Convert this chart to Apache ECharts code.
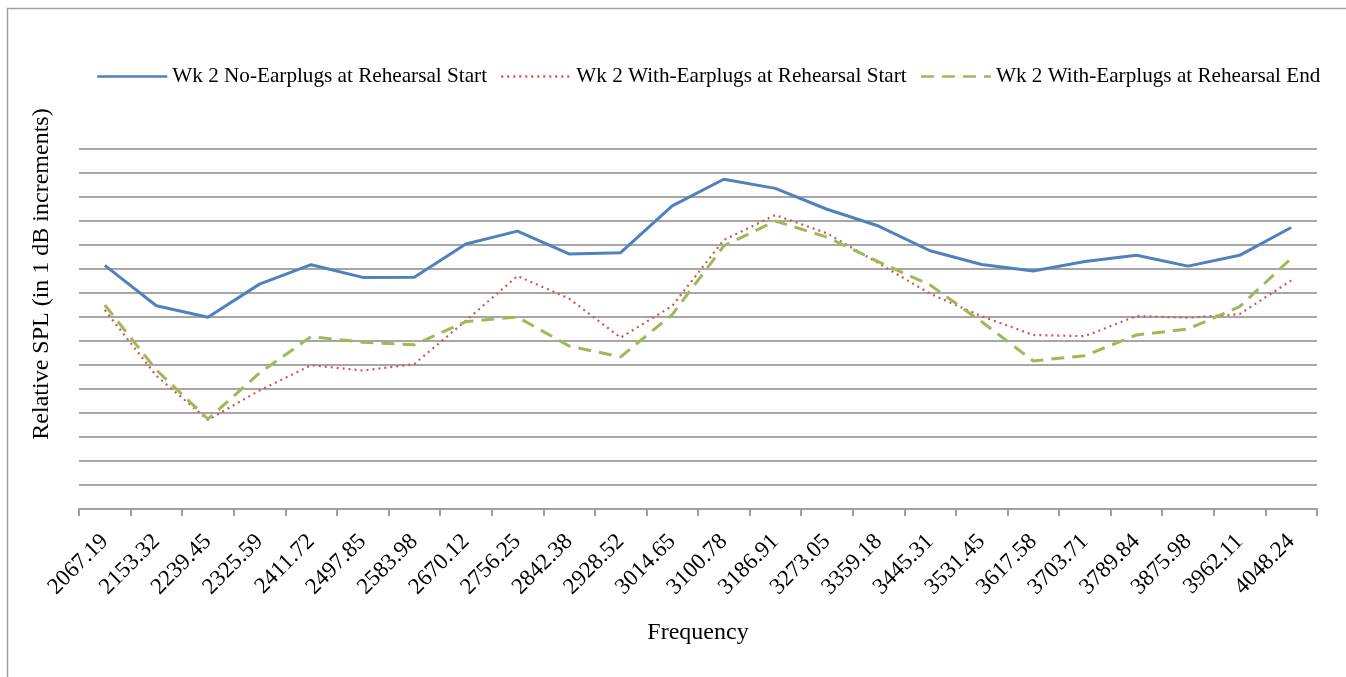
<!DOCTYPE html>
<html>
<head>
<meta charset="utf-8">
<script src="https://cdn.jsdelivr.net/npm/echarts@6/dist/echarts.min.js"></script>
<style>
html,body{margin:0;padding:0;background:#fff;}
#chart{width:1346px;height:677px;}
</style>
</head>
<body>
<div id="chart"></div>
<script>
const categories = ['2067.19','2153.32','2239.45','2325.59','2411.72','2497.85','2583.98','2670.12','2756.25','2842.38','2928.52','3014.65','3100.78','3186.91','3273.05','3359.18','3445.31','3531.45','3617.58','3703.71','3789.84','3875.98','3962.11','4048.24'];
const seriesNames = ['Wk 2 No-Earplugs at Rehearsal Start','Wk 2 With-Earplugs at Rehearsal Start','Wk 2 With-Earplugs at Rehearsal End'];
const noEarplugsStart = [10.15, 8.47, 7.99, 9.37, 10.18, 9.65, 9.66, 11.04, 11.58, 10.63, 10.68, 12.63, 13.74, 13.36, 12.49, 11.79, 10.76, 10.19, 9.92, 10.31, 10.57, 10.12, 10.57, 11.73];
const withEarplugsStart = [8.29, 5.55, 3.71, 4.94, 5.99, 5.77, 6.04, 7.85, 9.71, 8.77, 7.14, 8.46, 11.21, 12.25, 11.49, 10.24, 8.97, 8.03, 7.25, 7.2, 8.04, 7.97, 8.12, 9.52];
const withEarplugsEnd = [8.5, 5.79, 3.75, 5.67, 7.18, 6.95, 6.84, 7.81, 8.0, 6.79, 6.34, 8.1, 10.96, 12.0, 11.33, 10.3, 9.33, 7.8, 6.17, 6.39, 7.25, 7.5, 8.43, 10.44];
const xTitle = 'Frequency';
const yTitle = 'Relative SPL (in 1 dB increments)';

const FONT = 'Liberation Serif';
const chart = echarts.init(document.getElementById('chart'), null, {renderer:'canvas'});
chart.setOption({
  animation: false,
  backgroundColor: '#fff',
  graphic: [
    {type:'rect', shape:{x:7.5, y:8.5, width:1500, height:800}, style:{fill:'none', stroke:'#a0a0a0', lineWidth:1.5}, silent:true, z:-1},
    {type:'text', x:42, y:274, rotation:Math.PI/2, style:{text:yTitle, font:'24px "Liberation Serif"', fill:'#000', align:'center', verticalAlign:'middle'}}
  ],
  legend: {
    left: 96, top: 66, padding: 0,
    itemWidth: 70, itemHeight: 14, itemGap: 13,
    itemStyle: {opacity: 0},
    lineStyle: {width: 2.5},
    textStyle: {fontFamily: FONT, fontSize: 21.2, color: '#000'},
    data: seriesNames
  },
  grid: {left: 79, right: 29, top: 149, bottom: 168, containLabel: false},
  xAxis: {
    type: 'category',
    data: categories,
    boundaryGap: true,
    name: xTitle,
    nameLocation: 'middle',
    nameGap: 112,
    nameTextStyle: {fontFamily: FONT, fontSize: 24, color: '#000'},
    axisLine: {lineStyle: {color: '#a0a0a0', width: 2}},
    axisTick: {show: true, length: 7, lineStyle: {color: '#a0a0a0', width: 2}},
    axisLabel: {rotate: 45, fontFamily: FONT, fontSize: 23, color: '#000', margin: 29, interval: 0},
    splitLine: {show: false}
  },
  yAxis: {
    type: 'value',
    min: 0, max: 15, interval: 1,
    axisLine: {show: false},
    axisTick: {show: false},
    axisLabel: {show: false},
    splitLine: {lineStyle: {color: '#a6a6a6', width: 2}}
  },
  series: [
    {name: seriesNames[0], type: 'line', data: noEarplugsStart, symbol: 'none',
     lineStyle: {color: '#4f81bd', width: 3}, itemStyle: {color: '#4f81bd'}},
    {name: seriesNames[1], type: 'line', data: withEarplugsStart, symbol: 'none',
     lineStyle: {color: '#d9534f', width: 2.2, type: [2, 4]}, itemStyle: {color: '#d9534f'}},
    {name: seriesNames[2], type: 'line', data: withEarplugsEnd, symbol: 'none',
     lineStyle: {color: '#9bbb59', width: 3, type: [13, 8]}, itemStyle: {color: '#9bbb59'}}
  ]
});
</script>
</body>
</html>
